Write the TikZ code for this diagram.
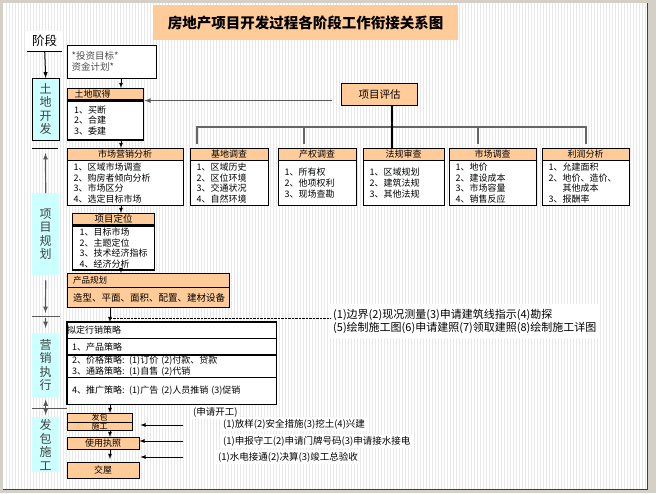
\documentclass[tikz,border=0pt]{standalone}
\usepackage{fontspec}
\setmainfont{Noto Sans CJK SC}
\usetikzlibrary{arrows, positioning, chains}
\definecolor{peach}{HTML}{FFCC99}
\definecolor{stagecol}{HTML}{CCFFFF}
\definecolor{panel}{HTML}{D4D0C8}

\tikzset{
  hdr/.style={draw, fill=peach, minimum height=12pt, inner sep=0pt, text width=#1, align=center,
    font=\fontsize{9}{10}\selectfont},
  lst/.style={draw, fill=white, align=left, inner xsep=6.5pt, inner ysep=1pt, text width=#1,
    font=\fontsize{9}{10.8}\selectfont},
  stage/.style={fill=stagecol, minimum width=27pt, text width=13pt, align=center, inner sep=0pt,
    font=\fontsize{12}{13.5}\selectfont, text=black!75},
  stratrow/.style={draw, fill=white, text width=199pt, inner xsep=5pt, inner ysep=0pt, align=left,
    font=\fontsize{9}{11}\selectfont},
  buildbox/.style={draw, fill=peach, inner sep=0pt, minimum width=#1, font=\fontsize{9}{10}\selectfont},
  remark/.style={fill=white, align=left, inner sep=2pt, font=\fontsize{9.5}{11}\selectfont},
  bus/.style={draw=black!60, line width=1.5pt},
  feed/.style={->, draw=black!65, line width=1.2pt},
}

\begin{document}
\begin{tikzpicture}[x=1pt, y=-1pt, >=latex]
% panel
\fill[panel] (0,0) rectangle (656,493);
\fill[white] (3,3) rectangle (647,489);
\foreach \x in {6,9,...,645}
  \draw[black!9, line width=0.6pt] (\x,3) -- (\x,489);
\draw[black!75, line width=1pt] (3,489) -- (647,489) -- (647,3);

\node[fill=peach, anchor=north west, minimum width=305pt, minimum height=35pt,
  font=\bfseries\fontsize{14.5}{16}\selectfont] (title) at (153,5) {房地产项目开发过程各阶段工作衔接关系图};

% stages
\node[fill=white, anchor=north west, minimum width=35pt, minimum height=20pt, inner sep=0pt,
  font=\fontsize{12.5}{13}\selectfont] (stg) at (27,31) {阶段};
\draw (stg.south west) -- (stg.south east);
\node[stage, draw, anchor=north west, minimum height=62pt] (s1) at (32,78) {土\\地\\开\\发};
\node[stage, anchor=north west, minimum height=82pt] (s2) at (32,193) {项\\目\\规\\划};
\node[stage, anchor=north west, minimum height=64pt] (s3) at (32,333) {营\\销\\执\\行};
\node[stage, anchor=north west, minimum height=55pt] (s4) at (32,417) {发\\包\\施\\工};
\coordinate (sep1) at (45.5,148);
\coordinate (sep2) at (45.5,316);
\draw[line width=1pt] (32,148) -- (58,148);
\draw[black!65, line width=1pt] (32,316) -- (60,316);
\draw[black!65, line width=1pt] (32,408) -- (67,408);

\draw[->, line width=1pt] (stg.south) -- (s1.north);
\draw[feed] (s2.north) -- ([yshift=-5pt]sep1);
\draw[feed] ([yshift=-5pt]s2.south) -- ([yshift=3pt]sep2);
\draw[feed] ([yshift=-2pt]sep2) -- ([yshift=5pt]s3.north);
\draw[feed, <->] ([yshift=-2pt]s3.south) -- ([yshift=2pt]s4.north);

% land
\coordinate (colA) at (121,0);
\coordinate (colB) at (110,0);
\node[draw, fill=white, anchor=north west, text width=80pt, inner xsep=4.5pt, align=left,
  minimum height=33pt, text=black!70, font=\fontsize{9.5}{11}\selectfont] (tgt) at (67,45) {*投资目标*\\*资金计划*};
\node[hdr=76pt, line width=1.3pt, minimum height=11pt, align=left, anchor=north west] (landh) at (67,88) {\hspace*{7pt}土地取得};
\node[lst=63pt, line width=1.3pt, minimum height=39pt, below=0pt of landh] (landb) {1、买断\\2、合建\\3、委建};
\draw[->, line width=0.8pt] (tgt.south -| colA) -- (landh.north -| colA);

\node[draw, line width=1.2pt, fill=peach, anchor=north west, minimum width=76pt, minimum height=22pt,
  font=\fontsize{10.5}{12}\selectfont] (pg) at (341,83) {项目评估};
\coordinate (pgin) at ([xshift=-9pt,yshift=-6pt]pg.west);
\draw[feed] (pgin) -- (pgin -| landh.east);

% survey row
\node[hdr=116pt, anchor=north west] (mkth) at (67,148) {市场营销分析};
\node[lst=103pt, minimum height=45pt, below=0pt of mkth] (mktb) {1、区域市场调查\\2、购房者倾向分析\\3、市场区分\\4、选定目标市场};
\node[hdr=78pt, anchor=north west] (siteh) at (190,148) {基地调查};
\node[lst=65pt, minimum height=45pt, below=0pt of siteh] (siteb) {1、区域历史\\2、区位环境\\3、交通状况\\4、自然环境};
\node[hdr=78pt, anchor=north west] (proph) at (278,148) {产权调查};
\node[lst=65pt, minimum height=45pt, below=0pt of proph] (propb) {1、所有权\\2、他项权利\\3、现场查勘};
\node[hdr=81pt, anchor=north west] (lawh) at (363,148) {法规审查};
\node[lst=68pt, minimum height=45pt, below=0pt of lawh] (lawb) {1、区域规划\\2、建筑法规\\3、其他法规};
\node[hdr=87pt, anchor=north west] (mresh) at (449,148) {市场调查};
\node[lst=74pt, minimum height=45pt, below=0pt of mresh] (mresb) {1、地价\\2、建设成本\\3、市场容量\\4、销售反应};
\node[hdr=87pt, anchor=north west] (profh) at (542,148) {利润分析};
\node[lst=74pt, minimum height=45pt, below=0pt of profh] (profb) {1、允建面积\\2、地价、造价、\\\phantom{2、}其他成本\\3、报酬率};

\draw[->, line width=0.8pt] (landb.south -| colA) -- (mkth.north -| colA);
\draw[bus] ([xshift=7pt,yshift=4pt]siteh.north west) -- ++(0,-17) -| ([xshift=44pt,yshift=4pt]profh.north west);
\draw[bus] ([xshift=26pt,yshift=4pt]proph.north west) -- ++(0,-17);
\draw[bus] ([xshift=29pt,yshift=4pt]mresh.north west) -- ++(0,-17);
\coordinate (lawtop) at ([xshift=29pt]lawh.north west);
\draw[line width=1.2pt] (lawtop) -- (lawtop |- pg.south);

% planning
\node[hdr=82pt, line width=1.3pt, minimum height=11pt, anchor=north west, font=\fontsize{9.5}{10}\selectfont] (posh) at (72,213) {项目定位};
\node[lst=68pt, line width=1.3pt, inner xsep=7pt, inner ysep=0pt, minimum height=44pt, below=0pt of posh,
  font=\fontsize{9}{10.6}\selectfont] (posb) {1、目标市场\\2、主题定位\\3、技术经济指标\\4、经济分析};
\draw[->, line width=0.8pt] (mktb.south -| colA) -- (posh.north -| colA);

\node[draw, fill=peach, anchor=north west, text width=150pt, inner xsep=6pt, inner ysep=0pt, align=left,
  minimum height=14pt, font=\fontsize{8.5}{9}\selectfont] (prodh) at (67,273) {\raisebox{-4pt}{产品规划}};
\node[draw, fill=peach, text width=150pt, inner xsep=6pt, inner ysep=0pt, align=left,
  minimum height=20pt, below=0pt of prodh, font=\fontsize{9.5}{10}\selectfont] (prodb) {造型、平面、面积、配置、建材设备};
\draw[->, line width=0.8pt] (posb.south -| colA) -- (prodh.north -| colA);

\node[fill=white, anchor=north west, align=left, inner xsep=3pt, inner ysep=5pt,
  font=\fontsize{11}{12.5}\selectfont] (survey) at (330,304)
  {(1)边界(2)现况测量(3)申请建筑线指示(4)勘探\\(5)绘制施工图(6)申请建照(7)领取建照(8)绘制施工详图};
\coordinate (sv) at ([yshift=3pt]survey.west);
\draw[densely dotted] (sv) -- (sv -| colB);

% marketing
\begin{scope}[start chain=strat going below, node distance=0pt]
  \node[stratrow, on chain, anchor=north west, minimum height=16pt] (st1) at (67,322) {\hspace*{-5pt}\raisebox{-4pt}{拟定行销策略}};
  \node[stratrow, on chain, minimum height=16pt] (st2) {1、产品策略};
  \node[stratrow, on chain, minimum height=22pt] (st3) {2、价格策略: (1)订价 (2)付款、贷款\\3、通路策略: (1)自售 (2)代销};
  \node[stratrow, on chain, minimum height=27pt] (st4) {4、推广策略: (1)广告 (2)人员推销 (3)促销};
\end{scope}
\draw[line width=1.2pt] (st1.north west) rectangle (st4.south east);
\draw[->, line width=0.8pt] (prodb.south -| colB) -- (st1.north -| colB);

% building
\begin{scope}[start chain=build going below, node distance=0pt]
  \node[buildbox=65pt, on chain, anchor=north west, minimum height=9pt, font=\fontsize{8}{8}\selectfont] (bid1) at (67,413) {发包};
  \node[buildbox=65pt, on chain, minimum height=7pt, font=\fontsize{8}{8}\selectfont] (bid2) {施工};
\end{scope}
\node[buildbox=72pt, anchor=north west, minimum height=12pt] (lic) at (67,437) {使用执照};
\node[buildbox=72pt, anchor=north west, minimum height=16pt] (hand) at (67,462) {交屋};
\draw[->, line width=0.8pt] (st4.south -| colB) -- (bid1.north -| colB);
\draw[->, line width=0.8pt] (bid2.south -| colB) -- (lic.north -| colB);
\draw[->, line width=0.8pt] (lic.south -| colB) -- ([yshift=3pt]hand.north -| colB);

\coordinate (r1) at (183,425);
\coordinate (r2) at (183,441);
\coordinate (r3) at (183,457);
\draw[->, line width=0.8pt] (r1) -- ([xshift=8pt]bid1.east |- r1);
\draw[->, line width=0.8pt] (r2) -- (lic.east |- r2);
\draw[->, line width=0.8pt] (r3) -- ([xshift=1pt]hand.east |- r3);

\node[remark, anchor=west] (kg) at (191,412) {(申请开工)};
\node[remark, anchor=west] (n1) at (221,424) {(1)放样(2)安全措施(3)挖土(4)兴建};
\node[remark, anchor=west] (n2) at (221,441) {(1)申报守工(2)申请门牌号码(3)申请接水接电};
\node[remark, anchor=west] (n3) at (216,457) {(1)水电接通(2)决算(3)竣工总验收};
\end{tikzpicture}
\end{document}
